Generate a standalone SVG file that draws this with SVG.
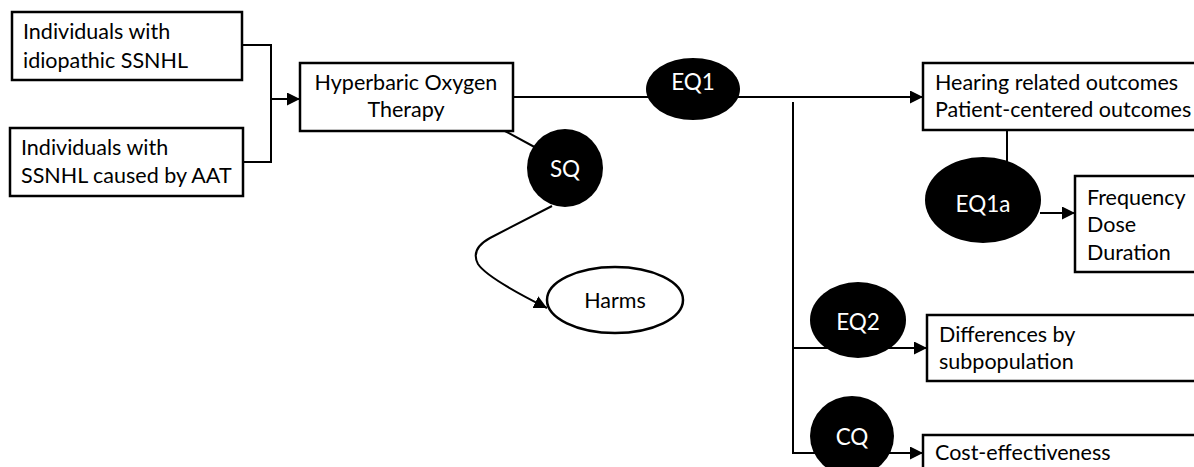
<svg xmlns="http://www.w3.org/2000/svg" width="1194" height="467" viewBox="0 0 1194 467">
<style>
.box{fill:#fff;stroke:#000;stroke-width:2.5}
.bub{fill:#000;stroke:none}
.oval{fill:#fff;stroke:#000;stroke-width:2.5}
.ln{fill:none;stroke:#000;stroke-width:2}
.t{font-family:Lato,"Liberation Sans",sans-serif;font-size:21.5px;fill:#000}
.w{font-family:Lato,"Liberation Sans",sans-serif;font-size:22.5px;fill:#fff;text-anchor:middle}
.c{text-anchor:middle}
</style>
<defs>
<marker id="arr" viewBox="0 0 10 10" refX="10" refY="5" markerWidth="13" markerHeight="13" markerUnits="userSpaceOnUse" orient="auto">
<path d="M0,0 L10,5 L0,10 z" fill="#000"/>
</marker>
</defs>
<g id="connectors">
<polyline class="ln" points="242,45 271,45 271,162 243,162"/>
<line class="ln" x1="271" y1="99" x2="300" y2="99" marker-end="url(#arr)"/>
<line class="ln" x1="513" y1="97" x2="923" y2="97" marker-end="url(#arr)"/>
<line class="ln" x1="505" y1="131" x2="540" y2="150"/>
<path class="ln" d="M552,206 L490,238 Q470,249 478,264 Q487,278 547,308" marker-end="url(#arr)"/>
<line class="ln" x1="1007" y1="130" x2="1007" y2="162"/>
<line class="ln" x1="1040" y1="213" x2="1075" y2="213" marker-end="url(#arr)"/>
<polyline class="ln" points="793,102 793,453 923,453" marker-end="url(#arr)"/>
<line class="ln" x1="793" y1="348" x2="927" y2="348" marker-end="url(#arr)"/>
</g>
<g id="pop1">
<rect class="box" x="12" y="12" width="230" height="68"/>
<text class="t" x="23" y="39">Individuals with</text>
<text class="t" x="23" y="68">idiopathic SSNHL</text>
</g>
<g id="pop2">
<rect class="box" x="10" y="128" width="233" height="68"/>
<text class="t" x="21" y="155">Individuals with</text>
<text class="t" x="21" y="183">SSNHL caused by AAT</text>
</g>
<g id="hbot">
<rect class="box" x="300" y="63" width="213" height="68"/>
<text class="t c" x="406" y="90">Hyperbaric Oxygen</text>
<text class="t c" x="406" y="117">Therapy</text>
</g>
<g id="eq1">
<ellipse class="bub" cx="693" cy="89" rx="47" ry="31"/>
<text class="w" x="693" y="90">EQ1</text>
</g>
<g id="sq">
<ellipse class="bub" cx="565" cy="168" rx="38" ry="39"/>
<text class="w" x="565" y="177">SQ</text>
</g>
<g id="harms">
<ellipse class="oval" cx="615" cy="300" rx="68" ry="33"/>
<text class="t c" x="615" y="308">Harms</text>
</g>
<g id="outcomes">
<rect class="box" x="923" y="63" width="290" height="67"/>
<text class="t" x="935" y="90">Hearing related outcomes</text>
<text class="t" x="935" y="117">Patient-centered outcomes</text>
</g>
<g id="eq1a">
<ellipse class="bub" cx="983" cy="200" rx="58" ry="43"/>
<text class="w" x="983" y="212">EQ1a</text>
</g>
<g id="freq">
<rect class="box" x="1075" y="176" width="140" height="96"/>
<text class="t" x="1087" y="205">Frequency</text>
<text class="t" x="1087" y="232">Dose</text>
<text class="t" x="1087" y="260">Duration</text>
</g>
<g id="eq2">
<ellipse class="bub" cx="858" cy="320" rx="48" ry="38"/>
<text class="w" x="858" y="330">EQ2</text>
</g>
<g id="subpop">
<rect class="box" x="927" y="315" width="290" height="66"/>
<text class="t" x="939" y="342">Differences by</text>
<text class="t" x="939" y="369">subpopulation</text>
</g>
<g id="cq">
<ellipse class="bub" cx="852" cy="436" rx="42" ry="40"/>
<text class="w" x="852" y="445">CQ</text>
</g>
<g id="cost">
<rect class="box" x="923" y="435" width="290" height="60"/>
<text class="t" x="935" y="460">Cost-effectiveness</text>
</g>
</svg>
